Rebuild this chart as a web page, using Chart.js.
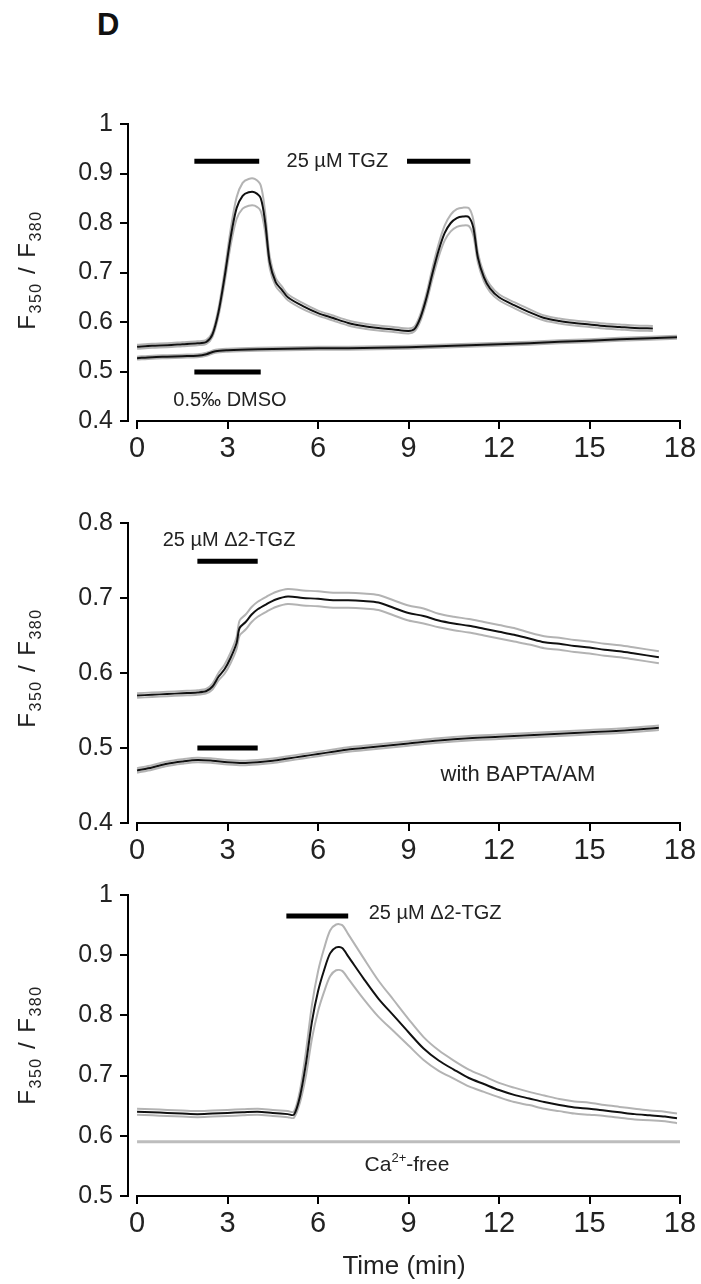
<!DOCTYPE html>
<html><head><meta charset="utf-8">
<script src="https://cdn.jsdelivr.net/npm/chart.js@4.4.1/dist/chart.umd.min.js"></script>
<style>
html,body{margin:0;padding:0;background:#fff;width:701px;height:1284px;overflow:hidden;position:relative;font-family:"Liberation Sans",Arial,sans-serif;}
canvas{position:absolute;left:0;}
.ytitle{position:absolute;transform:translate(-50%,-50%) rotate(-90deg);white-space:nowrap;font-size:24px;letter-spacing:1.5px;color:#222;font-family:"Liberation Sans",Arial,sans-serif;}
.ytitle sub{font-size:16px;vertical-align:-6px;}
#D{position:absolute;left:97px;top:7px;font-weight:bold;font-size:31px;color:#111;}
</style></head>
<body>
<div id="D">D</div>
<canvas id="c1" width="701" height="390" style="top:90px"></canvas>
<canvas id="c2" width="701" height="390" style="top:490px"></canvas>
<canvas id="c3" width="701" height="422" style="top:862px"></canvas>
<div class="ytitle" style="left:29px;top:270px">F<sub>350</sub> / F<sub>380</sub></div>
<div class="ytitle" style="left:29px;top:668px">F<sub>350</sub> / F<sub>380</sub></div>
<div class="ytitle" style="left:29px;top:1045px">F<sub>350</sub> / F<sub>380</sub></div>
<script>
// ---------- data ----------
const xTicks = [0, 3, 6, 9, 12, 15, 18];

// Panel 1: 25 µM TGZ (two applications) and 0.5‰ DMSO
const p1Time = [0,0.5,1,1.5,2,2.3,2.5,2.7,2.9,3.1,3.3,3.5,3.7,3.9,4.1,4.25,4.4,4.6,4.8,5,5.5,6,6.5,7,7.5,8,8.5,9,9.2,9.4,9.6,9.8,10,10.2,10.4,10.6,10.8,11,11.15,11.3,11.5,11.7,12,12.5,13,13.5,14,14.5,15,15.5,16,16.5,17.1];
const p1TGZ = [0.550,0.552,0.553,0.555,0.557,0.560,0.575,0.620,0.690,0.770,0.830,0.855,0.862,0.862,0.850,0.800,0.720,0.680,0.665,0.650,0.632,0.618,0.608,0.598,0.592,0.588,0.585,0.582,0.586,0.610,0.650,0.700,0.745,0.780,0.800,0.810,0.813,0.812,0.790,0.730,0.690,0.668,0.650,0.634,0.620,0.608,0.602,0.598,0.595,0.592,0.590,0.588,0.587];
const p1TGZsem = [0.004,0.004,0.004,0.004,0.004,0.004,0.005,0.008,0.012,0.016,0.022,0.026,0.027,0.027,0.026,0.020,0.012,0.008,0.007,0.006,0.006,0.005,0.005,0.005,0.005,0.005,0.005,0.005,0.005,0.007,0.009,0.011,0.013,0.015,0.017,0.018,0.018,0.018,0.016,0.010,0.008,0.007,0.006,0.006,0.006,0.005,0.005,0.005,0.005,0.005,0.005,0.005,0.005];
const p1DmsoTime = [0,0.5,1,1.5,2,2.3,2.6,3,4,5,6,7,8,9,10,11,12,13,14,15,16,17,17.9];
const p1Dmso = [0.527,0.529,0.530,0.531,0.532,0.535,0.541,0.543,0.545,0.546,0.547,0.547,0.548,0.549,0.551,0.553,0.555,0.557,0.560,0.562,0.565,0.567,0.569];
const p1DmsoSem = [0.003,0.003,0.003,0.003,0.003,0.003,0.003,0.003,0.003,0.003,0.003,0.003,0.003,0.003,0.003,0.003,0.003,0.003,0.003,0.003,0.003,0.003,0.003];
const p1BarStart = [1.9, 8.95, 1.9];
const p1BarEnd = [4.05, 11.05, 4.1];
const p1BarLevel = [0.925, 0.925, 0.499];

// Panel 2: 25 µM Δ2-TGZ, control and with BAPTA/AM
const p2Time = [0,0.5,1,1.5,2,2.3,2.5,2.7,2.9,3.1,3.3,3.4,3.6,3.8,4,4.3,4.6,5,5.5,6,6.5,7,7.5,8,8.5,9,9.5,10,10.5,11,11.5,12,12.5,13,13.5,14,14.5,15,15.5,16,16.5,17.3];
const p2D2TGZ = [0.570,0.571,0.572,0.573,0.574,0.576,0.582,0.595,0.605,0.620,0.640,0.660,0.668,0.678,0.685,0.692,0.698,0.702,0.700,0.699,0.697,0.697,0.696,0.694,0.687,0.680,0.676,0.670,0.666,0.663,0.659,0.655,0.651,0.646,0.641,0.639,0.636,0.634,0.631,0.629,0.626,0.621];
const p2D2TGZsem = [0.003,0.003,0.003,0.003,0.003,0.003,0.004,0.005,0.006,0.007,0.008,0.010,0.010,0.010,0.010,0.010,0.010,0.010,0.010,0.010,0.010,0.010,0.010,0.010,0.010,0.010,0.010,0.009,0.009,0.009,0.009,0.009,0.009,0.008,0.008,0.008,0.008,0.008,0.008,0.008,0.008,0.008];
const p2BaptaTime = [0,0.5,1,1.5,2,2.5,3,3.5,4,4.5,5,5.5,6,6.5,7,7.5,8,9,10,11,12,13,14,15,16,17.3];
const p2Bapta = [0.470,0.474,0.479,0.482,0.484,0.483,0.481,0.480,0.481,0.483,0.486,0.489,0.492,0.495,0.498,0.500,0.502,0.506,0.510,0.513,0.515,0.517,0.519,0.521,0.523,0.527];
const p2BaptaSem = [0.003,0.003,0.003,0.003,0.003,0.003,0.003,0.003,0.003,0.003,0.003,0.003,0.003,0.003,0.003,0.003,0.003,0.003,0.003,0.003,0.003,0.003,0.003,0.003,0.003,0.003];
const p2BarStart = [2.0, 2.0];
const p2BarEnd = [4.0, 4.0];
const p2BarLevel = [0.749, 0.5];

// Panel 3: 25 µM Δ2-TGZ in Ca2+-free medium
const p3Time = [0,0.5,1,1.5,2,2.5,3,3.5,4,4.5,5,5.2,5.4,5.6,5.8,6,6.2,6.4,6.6,6.8,7,7.5,8,8.5,9,9.5,10,10.5,11,11.5,12,12.5,13,13.5,14,14.5,15,15.5,16,16.5,17,17.5,17.9];
const p3D2TGZ = [0.640,0.639,0.638,0.637,0.636,0.637,0.638,0.639,0.640,0.638,0.636,0.635,0.665,0.720,0.790,0.840,0.875,0.903,0.913,0.912,0.898,0.862,0.828,0.800,0.772,0.745,0.725,0.710,0.696,0.686,0.676,0.668,0.662,0.656,0.651,0.647,0.645,0.642,0.639,0.636,0.634,0.632,0.629];
const p3D2TGZsem = [0.005,0.005,0.005,0.005,0.005,0.005,0.005,0.005,0.005,0.005,0.005,0.005,0.010,0.020,0.028,0.033,0.036,0.038,0.038,0.038,0.037,0.034,0.030,0.026,0.022,0.019,0.017,0.015,0.014,0.013,0.012,0.012,0.011,0.011,0.010,0.010,0.010,0.009,0.009,0.009,0.008,0.008,0.008];
const p3CaFreeTime = [0, 18];
const p3CaFree = [0.59, 0.59];
const p3BarStart = [4.95];
const p3BarEnd = [7.0];
const p3BarLevel = [0.965];

// ---------- styling / helpers ----------
const SANS = '"Liberation Sans",Arial,sans-serif';
const BAND = '#b3b3b3';

function pts(t, v) { return t.map((x, i) => ({x, y: v[i]})); }
function trace(t, v, sem) {
  return [
    {data: pts(t, v), borderColor: '#111', borderWidth: 2, order: 0, tension: 0.3},
    {data: pts(t, v.map((m, i) => m + sem[i])), borderColor: BAND, borderWidth: 2, order: 1, tension: 0.3},
    {data: pts(t, v.map((m, i) => m - sem[i])), borderColor: BAND, borderWidth: 2, order: 1, tension: 0.3}
  ];
}
function bars(s, e, lv) {
  return s.map((x0, i) => ({data: [{x: x0, y: lv[i]}, {x: e[i], y: lv[i]}], borderColor: '#000', borderWidth: 5, borderCapStyle: 'butt', order: 0}));
}

const xAxisLine = {
  id: 'xAxisLine',
  afterDraw(chart) {
    const {ctx, chartArea, scales: {x}} = chart;
    ctx.save();
    ctx.strokeStyle = '#000'; ctx.lineWidth = 2;
    ctx.beginPath();
    ctx.moveTo(x.getPixelForValue(xTicks[0]) - 1, chartArea.bottom);
    ctx.lineTo(x.getPixelForValue(xTicks[xTicks.length - 1]) + 1, chartArea.bottom);
    ctx.stroke();
    ctx.restore();
  }
};
const annot = {
  id: 'annot',
  afterDatasetsDraw(chart, args, opts) {
    const {ctx, scales: {x, y}} = chart;
    ctx.save();
    ctx.fillStyle = '#222';
    ctx.textBaseline = 'middle';
    ctx.textAlign = 'left';
    for (const a of opts.items) {
      const size = a.size || 20;
      const parts = a.parts || [{t: a.text}];
      let w = 0;
      for (const p of parts) {
        ctx.font = (p.sup ? Math.round(size * 0.6) : size) + 'px ' + SANS;
        p.w = ctx.measureText(p.t).width; w += p.w;
      }
      let px = x.getPixelForValue(a.x) - w / 2;
      const py = y.getPixelForValue(a.y);
      for (const p of parts) {
        ctx.font = (p.sup ? Math.round(size * 0.6) : size) + 'px ' + SANS;
        ctx.fillText(p.t, px, p.sup ? py - size * 0.35 : py);
        px += p.w;
      }
    }
    ctx.restore();
  }
};

function makeChart(id, o) {
  const H = o.H;
  return new Chart(document.getElementById(id), {
    type: 'line',
    data: {datasets: o.datasets},
    options: {
      responsive: false, animation: false, events: [],
      elements: {point: {radius: 0}},
      layout: {padding: {left: 0, top: o.top, right: 21, bottom: 0}},
      plugins: {legend: {display: false}, tooltip: {enabled: false}, annot: {items: o.labels}},
      scales: {
        x: {
          type: 'linear', min: -0.3, max: 18,
          afterBuildTicks: s => { s.ticks = xTicks.map(v => ({value: v})); },
          afterFit: s => { s.height = H - o.bottom; },
          border: {display: false},
          grid: {display: true, drawOnChartArea: false, drawTicks: true, tickLength: 8, color: '#000', lineWidth: 2},
          ticks: {color: '#222', font: {family: SANS, size: 29}, padding: 3, maxRotation: 0, autoSkip: false},
          title: o.xTitle ? {display: true, text: o.xTitle, color: '#222', font: {family: SANS, size: 26}, padding: {top: 0, bottom: 2}} : {display: false}
        },
        y: {
          min: o.ymin, max: o.ymax,
          afterFit: s => { s.width = 128; },
          border: {display: true, color: '#000', width: 2},
          grid: {display: true, drawOnChartArea: false, drawTicks: true, tickLength: 8, color: '#000', lineWidth: 2},
          ticks: {stepSize: 0.1, color: '#222', font: {family: SANS, size: 25}, padding: 7,
                  callback: v => String(Number(v.toFixed(1)))}
        }
      }
    },
    plugins: [xAxisLine, annot]
  });
}

makeChart('c1', {
  H: 390, top: 34, bottom: 331, ymin: 0.4, ymax: 1,
  datasets: [...trace(p1Time, p1TGZ, p1TGZsem), ...trace(p1DmsoTime, p1Dmso, p1DmsoSem), ...bars(p1BarStart, p1BarEnd, p1BarLevel)],
  labels: [{text: '25 µM TGZ', x: 6.64, y: 0.925}, {text: '0.5‰ DMSO', x: 3.08, y: 0.442}]
});
makeChart('c2', {
  H: 390, top: 33, bottom: 333, ymin: 0.4, ymax: 0.8,
  datasets: [...trace(p2Time, p2D2TGZ, p2D2TGZsem), ...trace(p2BaptaTime, p2Bapta, p2BaptaSem), ...bars(p2BarStart, p2BarEnd, p2BarLevel)],
  labels: [{text: '25 µM Δ2-TGZ', x: 3.05, y: 0.777}, {text: 'with BAPTA/AM', x: 12.63, y: 0.464, size: 22}]
});
makeChart('c3', {
  H: 422, top: 33, bottom: 334, ymin: 0.5, ymax: 1, xTitle: 'Time (min)',
  datasets: [...trace(p3Time, p3D2TGZ, p3D2TGZsem),
             {data: pts(p3CaFreeTime, p3CaFree), borderColor: '#bdbdbd', borderWidth: 3, order: 2},
             ...bars(p3BarStart, p3BarEnd, p3BarLevel)],
  labels: [{text: '25 µM Δ2-TGZ', x: 9.88, y: 0.970}, {parts: [{t: 'Ca'}, {t: '2+', sup: true}, {t: '-free'}], x: 8.95, y: 0.551, size: 21}]
});
</script>
</body></html>
